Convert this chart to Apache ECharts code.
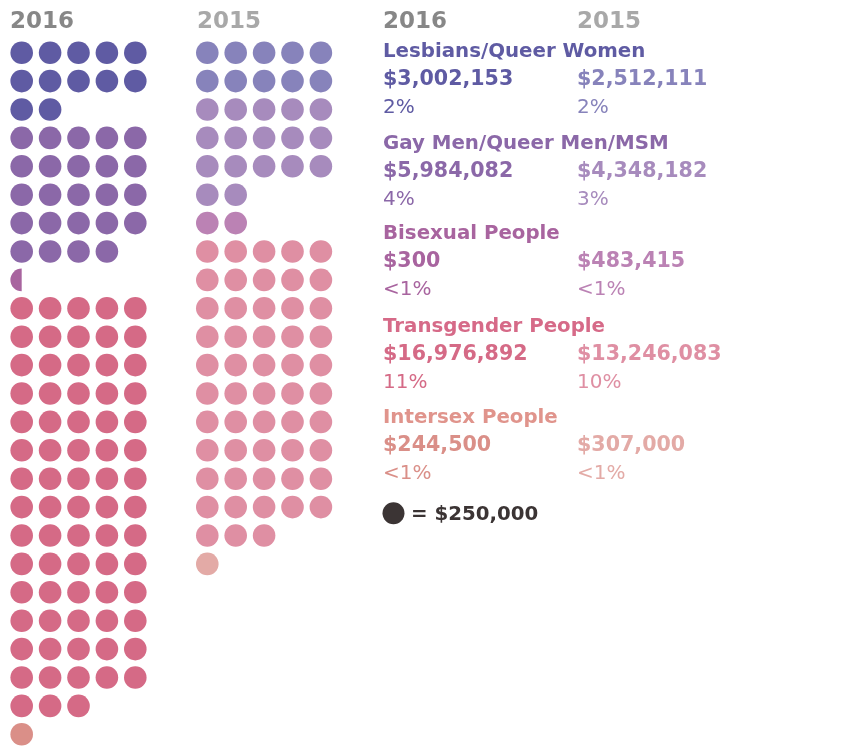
<!DOCTYPE html>
<html>
<head>
<meta charset="utf-8">
<script src="https://cdn.jsdelivr.net/npm/echarts@6/dist/echarts.min.js"></script>
<style>
  html, body { margin: 0; background: #fff; }
  #chart { width: 845px; height: 749px; }
</style>
</head>
<body>
<div id="chart"></div>
<script>
// data
const categories = ['Lesbians/Queer Women', 'Gay Men/Queer Men/MSM', 'Bisexual People', 'Transgender People', 'Intersex People'];
const years = ['2016', '2015'];
const amounts2016 = ['$3,002,153', '$5,984,082', '$300', '$16,976,892', '$244,500'];
const amounts2015 = ['$2,512,111', '$4,348,182', '$483,415', '$13,246,083', '$307,000'];
const shares2016 = ['2%', '4%', '<1%', '11%', '<1%'];
const shares2015 = ['2%', '3%', '<1%', '10%', '<1%'];
// dots as drawn (1 dot = $250,000), a fraction is drawn as a part dot
const dots2016 = [12, 24, 0.5, 73, 1];
const dots2015 = [10, 17, 2, 53, 1];
const colors2016 = ['#5f5ba3', '#8b68a8', '#a8649f', '#d56a86', '#da8f88'];
const colors2015 = ['#8783bb', '#a78bbd', '#bb82b4', '#df8fa3', '#e3aaa6'];
const titleColors = ['#5f5ba3', '#8b68a8', '#a8649f', '#d66a88', '#e0948c'];
const legendLabel = '= $250,000';

const PER_ROW = 5;
const YEAR_OFFSET = [0, 6.535]; // column offset of the 2015 block

// lay out dots: each category starts on a new row
function layout(counts, colors, xOff) {
  const full = [], part = [];
  let row = 0;
  counts.forEach((n, ci) => {
    const whole = Math.floor(n);
    for (let i = 0; i < whole; i++) {
      full.push({ value: [xOff + (i % PER_ROW), row + Math.floor(i / PER_ROW)], itemStyle: { color: colors[ci] } });
    }
    if (n > whole) {
      part.push({ value: [xOff + (whole % PER_ROW), row + Math.floor(whole / PER_ROW), n - whole], itemStyle: { color: colors[ci] } });
    }
    row += Math.ceil(n / PER_ROW);
  });
  return { full, part };
}

const a = layout(dots2016, colors2016, YEAR_OFFSET[0]);
const b = layout(dots2015, colors2015, YEAR_OFFSET[1]);

const FONT = 'DejaVu Sans';
const R = 11.3;

// y is the cap-height centre of the line
function txt(x, y, text, color, size, weight) {
  return {
    type: 'text', x: x, y: y - 0.42 * size,
    style: { text: text, fill: color, font: (weight || 'bold') + ' ' + size + 'px "' + FONT + '"', verticalAlign: 'top' }
  };
}

const titleMid = [50.2, 141.8, 232.5, 325.1, 416.1];
const colX = [383, 577];
const graphics = [
  txt(10, 20.4, years[0], '#878787', 23),
  txt(197, 20.4, years[1], '#a8a8a8', 23),
  txt(colX[0], 20.4, years[0], '#878787', 23),
  txt(colX[1], 20.4, years[1], '#a8a8a8', 23)
];
categories.forEach((c, i) => {
  const y = titleMid[i];
  graphics.push(txt(colX[0], y, c, titleColors[i], 19.8));
  graphics.push(txt(colX[0], y + 27.5, amounts2016[i], colors2016[i], 20.6));
  graphics.push(txt(colX[1], y + 27.5, amounts2015[i], colors2015[i], 20.6));
  graphics.push(txt(colX[0], y + 56, shares2016[i], colors2016[i], 20, 'normal'));
  graphics.push(txt(colX[1], y + 56, shares2015[i], colors2015[i], 20, 'normal'));
});
graphics.push({ type: 'circle', shape: { cx: 393.5, cy: 513.3, r: 11 }, style: { fill: '#3b3434' } });
graphics.push(txt(411, 512.8, legendLabel, '#3b3434', 19.8));

const chart = echarts.init(document.getElementById('chart'), null, { renderer: 'canvas' });
chart.setOption({
  animation: false,
  grid: { left: 21.7, top: 52.7, width: 340.8, height: 681.6 },
  xAxis: { type: 'value', min: 0, max: 12, show: false },
  yAxis: { type: 'value', min: 0, max: 24, inverse: true, show: false },
  graphic: graphics,
  series: [
    {
      type: 'scatter',
      symbol: 'circle',
      symbolSize: R * 2,
      itemStyle: { opacity: 1 },
      data: a.full.concat(b.full)
    },
    {
      type: 'custom',
      data: a.part.concat(b.part),
      renderItem: function (params, api) {
        const p = api.coord([api.value(0), api.value(1)]);
        const frac = api.value(2);
        return {
          type: 'sector',
          shape: { cx: p[0], cy: p[1], r: R, r0: 0, startAngle: Math.PI / 2, endAngle: Math.PI / 2 + frac * 2 * Math.PI },
          style: { fill: api.visual('color') }
        };
      }
    }
  ]
});
</script>
</body>
</html>
